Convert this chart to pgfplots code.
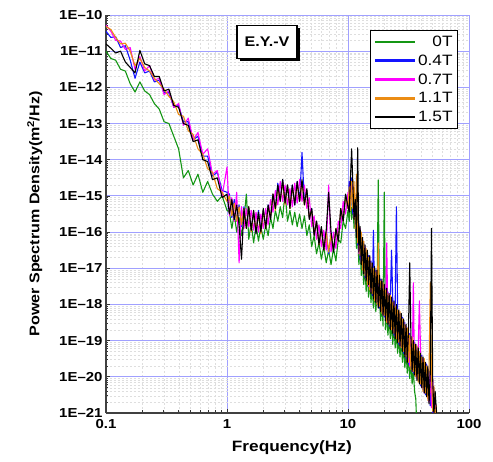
\documentclass[border=0pt]{standalone}
\usepackage{fontspec}
\setmainfont{Liberation Sans}[FakeStretch=1.15]
\usepackage{pgfplots}
\usepackage{pgfplotstable}
\pgfplotsset{compat=1.18}
\usetikzlibrary{shadows}
\definecolor{cG}{RGB}{20,150,20}
\definecolor{cB}{RGB}{20,20,255}
\definecolor{cM}{RGB}{255,0,255}
\definecolor{cO}{RGB}{235,140,20}
\definecolor{gridblue}{RGB}{160,160,255}
% columns: log10(f/Hz), then log10(PSD) for 0T, 0.4T, 0.7T, 1.1T, 1.5T
\pgfplotstableread{
u g b m o k
-1.00 -11.00 -10.45 -10.28 -10.32 -10.80
-0.96 -11.20 -10.62 -10.45 -10.40 -10.92
-0.92 -11.25 -10.60 -10.70 -10.62 -11.05
-0.88 -11.50 -10.90 -10.72 -10.80 -11.00
-0.84 -11.55 -10.85 -10.95 -10.78 -11.30
-0.80 -11.90 -11.25 -10.90 -11.00 -11.45
-0.76 -12.13 -11.75 -11.50 -11.40 -11.60
-0.72 -11.85 -11.30 -11.15 -11.20 -10.98
-0.68 -12.10 -11.60 -11.55 -11.45 -11.35
-0.64 -12.20 -11.55 -11.40 -11.55 -11.40
-0.60 -12.45 -11.85 -11.80 -11.75 -11.70
-0.56 -12.60 -11.80 -11.75 -11.90 -11.70
-0.52 -12.95 -12.15 -12.20 -12.05 -12.10
-0.48 -13.00 -12.15 -12.10 -12.25 -12.05
-0.44 -13.35 -12.55 -12.55 -12.40 -12.50
-0.40 -13.70 -12.50 -12.45 -12.75 -12.55
-0.36 -14.50 -12.95 -13.05 -12.80 -13.00
-0.32 -14.30 -12.95 -12.85 -13.20 -13.05
-0.28 -14.70 -13.45 -13.45 -13.30 -13.50
-0.24 -14.40 -13.35 -13.25 -13.70 -13.45
-0.20 -14.90 -13.90 -13.85 -13.85 -14.00
-0.16 -14.60 -13.90 -13.70 -14.25 -14.05
-0.12 -14.95 -14.45 -14.40 -14.35 -14.55
-0.08 -15.15 -14.35 -14.30 -14.80 -14.50
-0.04 -15.00 -14.85 -15.00 -14.90 -15.05
0.00 -15.40 -14.90 -14.20 -15.15 -14.95
0.02 -15.45 -14.95 -15.55 -15.00 -15.50
0.04 -15.90 -15.60 -15.05 -15.55 -15.10
0.06 -15.50 -15.10 -15.70 -15.20 -15.65
0.08 -16.00 -15.70 -14.90 -15.70 -15.25
0.10 -15.60 -15.25 -16.85 -15.30 -15.80
0.12 -16.10 -15.85 -15.30 -15.80 -16.75
0.14 -15.65 -15.30 -15.90 -15.35 -15.35
0.16 -14.95 -15.85 -15.35 -15.90 -15.90
0.18 -16.20 -15.35 -15.85 -15.30 -15.30
0.20 -15.75 -15.95 -15.40 -16.00 -15.95
0.22 -16.30 -15.45 -15.95 -15.45 -15.40
0.24 -15.80 -16.00 -15.45 -15.95 -16.05
0.26 -16.25 -15.40 -16.00 -15.50 -15.45
0.28 -15.85 -15.95 -15.50 -16.05 -16.00
0.30 -16.20 -15.40 -15.90 -15.40 -15.35
0.32 -15.80 -15.85 -15.35 -15.90 -15.90
0.34 -16.10 -15.25 -15.80 -15.30 -15.25
0.36 -15.60 -15.60 -15.10 -15.60 -15.65
0.38 -15.90 -14.95 -15.45 -14.95 -14.95
0.40 -15.40 -15.35 -14.85 -15.40 -15.35
0.42 -15.70 -14.65 -15.25 -14.75 -14.70
0.44 -15.30 -15.10 -14.60 -15.15 -15.15
0.46 -15.60 -14.55 -15.15 -14.60 -14.55
0.48 -14.90 -15.20 -14.70 -15.25 -15.20
0.50 -15.70 -14.70 -15.25 -14.70 -14.70
0.52 -15.40 -15.30 -14.80 -15.35 -15.35
0.54 -15.80 -14.70 -15.30 -14.75 -14.70
0.56 -15.45 -15.25 -14.65 -15.20 -15.25
0.58 -15.85 -14.60 -15.20 -14.65 -14.60
0.60 -15.50 -15.15 -14.55 -15.15 -15.15
0.62 -15.90 -13.80 -15.15 -14.60 -14.55
0.64 -15.55 -15.20 -14.70 -15.25 -15.25
0.66 -16.10 -14.85 -15.35 -14.85 -14.80
0.68 -15.80 -15.60 -15.05 -15.60 -15.65
0.70 -16.40 -15.35 -15.85 -15.40 -15.35
0.72 -16.10 -16.05 -15.55 -16.05 -16.10
0.74 -16.60 -15.70 -16.20 -15.70 -15.70
0.76 -16.30 -16.30 -15.80 -16.35 -16.35
0.78 -16.75 -15.90 -16.40 -15.90 -15.85
0.80 -16.40 -16.45 -15.95 -16.50 -16.50
0.82 -16.85 -16.00 -16.50 -16.00 -15.95
0.84 -16.50 -16.60 -14.70 -16.55 -14.90
0.86 -16.90 -16.05 -16.55 -16.05 -16.00
0.88 -16.45 -16.50 -16.00 -16.50 -16.55
0.90 -16.80 -15.95 -16.45 -15.90 -15.90
0.92 -16.20 -16.20 -15.70 -16.25 -16.25
0.94 -16.30 -15.40 -15.90 -15.35 -15.35
0.96 -15.70 -15.70 -15.15 -15.70 -15.70
0.98 -15.90 -15.00 -15.50 -15.00 -14.95
1.00 -15.40 -15.35 -14.90 -15.35 -15.30
1.01 -15.70 -14.60 -15.35 -14.75 -15.45
1.02 -15.05 -15.30 -14.60 -15.40 -14.55
1.03 -15.65 -14.50 -14.70 -14.60 -13.70
1.04 -15.20 -15.50 -14.70 -15.35 -14.65
1.05 -15.90 -14.85 -15.60 -14.60 -15.65
1.06 -15.60 -15.80 -15.05 -15.90 -15.10
1.07 -16.45 -15.30 -16.10 -14.40 -16.15
1.08 -16.05 -16.35 -15.50 -16.30 -13.67
1.09 -16.90 -15.75 -16.60 -15.80 -16.55
1.10 -16.45 -16.75 -15.90 -16.65 -15.85
1.11 -17.20 -16.05 -16.85 -16.00 -16.90
1.12 -16.75 -17.00 -16.20 -17.05 -16.15
1.13 -17.45 -16.30 -17.10 -16.25 -17.15
1.14 -16.95 -17.25 -16.40 -17.20 -16.35
1.15 -17.65 -16.50 -17.30 -16.45 -17.35
1.16 -17.10 -17.40 -16.55 -17.45 -16.50
1.17 -17.80 -16.65 -17.50 -16.70 -17.45
1.18 -17.30 -17.55 -16.70 -17.60 -16.65
1.19 -17.95 -16.80 -17.65 -16.85 -17.70
1.20 -17.45 -17.75 -16.90 -17.70 -16.85
1.21 -18.10 -15.95 -17.80 -17.00 -17.85
1.22 -17.60 -17.85 -17.00 -17.90 -16.95
1.23 -18.20 -17.05 -17.90 -17.10 -17.95
1.24 -17.70 -17.95 -17.10 -18.00 -17.05
1.25 -14.56 -17.20 -18.05 -16.30 -18.10
1.26 -17.85 -18.10 -17.25 -18.05 -17.20
1.27 -18.45 -17.30 -18.15 -17.35 -18.20
1.28 -18.00 -18.20 -17.35 -18.25 -17.30
1.29 -18.60 -17.45 -18.30 -17.40 -18.30
1.30 -14.90 -18.35 -17.50 -18.30 -17.45
1.31 -18.70 -17.55 -18.40 -17.60 -18.45
1.32 -18.25 -18.45 -16.30 -18.50 -17.55
1.33 -18.85 -17.65 -18.50 -17.70 -18.55
1.34 -18.35 -18.60 -17.70 -18.55 -17.70
1.35 -18.95 -17.80 -18.65 -17.75 -18.70
1.36 -18.50 -16.50 -17.80 -18.70 -17.80
1.37 -19.10 -17.90 -18.75 -17.95 -18.80
1.38 -18.60 -18.85 -17.95 -18.80 -17.90
1.39 -19.20 -18.00 -18.90 -18.05 -18.95
1.40 -18.75 -15.30 -18.05 -18.95 -18.00
1.41 -19.35 -18.10 -19.00 -18.15 -19.05
1.42 -18.90 -19.10 -18.20 -19.05 -18.15
1.43 -19.45 -18.25 -19.15 -18.20 -19.15
1.44 -19.00 -19.20 -18.30 -19.20 -18.25
1.45 -19.60 -18.35 -19.25 -18.40 -19.30
1.46 -19.15 -19.35 -18.45 -19.30 -18.40
1.47 -19.75 -18.50 -19.40 -18.55 -19.45
1.48 -19.30 -19.50 -18.60 -19.45 -18.55
1.49 -19.90 -18.70 -19.55 -18.65 -19.60
1.50 -19.45 -19.65 -18.75 -19.60 -18.70
1.51 -20.05 -18.80 -19.70 -18.85 -16.85
1.52 -19.60 -19.75 -18.90 -19.80 -18.85
1.53 -20.20 -18.95 -19.85 -18.90 -19.85
1.54 -19.80 -19.90 -17.40 -19.85 -19.00
1.55 -20.40 -19.05 -19.95 -19.10 -19.95
1.56 -20.60 -20.00 -19.10 -20.00 -19.10
1.57 -21.50 -19.20 -20.05 -19.15 -20.10
1.58 nan -20.10 -19.25 -20.15 -19.20
1.59 nan -19.30 -17.90 -19.30 -20.20
1.60 nan -20.25 -19.35 -20.20 -19.35
1.61 nan -19.40 -20.30 -19.45 -20.30
1.62 nan -20.35 -19.50 -20.40 -19.45
1.63 nan -19.55 -20.45 -19.50 -20.45
1.64 nan -20.50 -19.60 -20.45 -19.60
1.65 nan -19.65 -20.55 -19.70 -20.55
1.66 nan -20.60 -19.75 -20.65 -19.70
1.67 nan -19.85 -20.70 -19.80 -20.75
1.68 nan -20.80 -19.90 -17.40 -19.90
1.69 nan -20.00 -20.85 -20.00 -15.90
1.70 nan -21.00 -20.10 -20.95 -20.05
1.71 nan -20.30 -21.10 -20.25 -21.05
1.72 nan -21.30 -20.50 -21.25 -20.40
1.73 nan -22.00 -22.00 -20.80 -20.90
1.74 nan nan nan -22.00 -22.00
}\psd
\begin{document}
\begin{tikzpicture}
\begin{axis}[
  scale only axis,
  width=363pt, height=398pt,
  xmin=-1, xmax=2, ymin=-21, ymax=-10,
  axis x line*=bottom, axis y line*=left,
  axis line style={-, line width=1.1pt, black!75},
  xtick={-1,0,1,2},
  xticklabels={0.1,1,10,100},
  minor xtick={-0.699,-0.5229,-0.3979,-0.301,-0.2218,-0.1549,-0.0969,-0.0458,
    0.301,0.4771,0.6021,0.699,0.7782,0.8451,0.9031,0.9542,
    1.301,1.4771,1.6021,1.699,1.7782,1.8451,1.9031,1.9542},
  ytick={-21,-20,...,-10},
  yticklabels={1E–21,1E–20,1E–19,1E–18,1E–17,1E–16,1E–15,1E–14,1E–13,1E–12,1E–11,1E–10},
  minor ytick={-20.699,-20.5229,-20.3979,-20.301,-20.2218,-20.1549,-20.0969,-20.0458,
    -19.699,-19.5229,-19.3979,-19.301,-19.2218,-19.1549,-19.0969,-19.0458,
    -18.699,-18.5229,-18.3979,-18.301,-18.2218,-18.1549,-18.0969,-18.0458,
    -17.699,-17.5229,-17.3979,-17.301,-17.2218,-17.1549,-17.0969,-17.0458,
    -16.699,-16.5229,-16.3979,-16.301,-16.2218,-16.1549,-16.0969,-16.0458,
    -15.699,-15.5229,-15.3979,-15.301,-15.2218,-15.1549,-15.0969,-15.0458,
    -14.699,-14.5229,-14.3979,-14.301,-14.2218,-14.1549,-14.0969,-14.0458,
    -13.699,-13.5229,-13.3979,-13.301,-13.2218,-13.1549,-13.0969,-13.0458,
    -12.699,-12.5229,-12.3979,-12.301,-12.2218,-12.1549,-12.0969,-12.0458,
    -11.699,-11.5229,-11.3979,-11.301,-11.2218,-11.1549,-11.0969,-11.0458,
    -10.699,-10.5229,-10.3979,-10.301,-10.2218,-10.1549,-10.0969,-10.0458},
  tick align=inside,
  major tick length=4pt, minor tick length=2.5pt,
  tick style={black!80, line width=0.8pt},
  grid=both,
  major grid style={gridblue, line width=0.9pt},
  minor grid style={black!13, dash pattern=on 2pt off 2pt, line width=0.4pt},
  ticklabel style={font=\bfseries\fontsize{13}{15}\selectfont},
  xticklabel style={yshift=-3pt},
  xlabel={\bfseries Frequency(Hz)},
  xlabel style={font=\fontsize{15}{17}\selectfont, at={(axis description cs:0.512,-0.088)}, anchor=center},
  ylabel={\bfseries Power Spectrum Density(m$^{\mathbf{2}}$/Hz)},
  ylabel style={font=\fontsize{14}{16}\selectfont, at={(axis description cs:-0.196,0.5)}, anchor=center, rotate=0},
  unbounded coords=jump,
  legend cell align=right,
  legend style={at={(axis description cs:0.970,0.962)}, anchor=north east,
    draw=black, line width=1pt, fill=white,
    font=\fontsize{15}{17}\selectfont, row sep=3pt, inner sep=3pt},
  legend image code/.code={\draw[#1, line width=2.2pt] (0pt,0pt) -- (40pt,0pt);},
  every axis plot/.append style={line width=1.1pt, line join=round},
]
\addplot[color=cG] table[x=u,y=g] {\psd};
\addlegendentry{0T}
\addplot[color=cB] table[x=u,y=b] {\psd};
\addlegendentry{0.4T}
\addplot[color=cM] table[x=u,y=m] {\psd};
\addlegendentry{0.7T}
\addplot[color=cO] table[x=u,y=o] {\psd};
\addlegendentry{1.1T}
\addplot[color=black] table[x=u,y=k] {\psd};
\addlegendentry{1.5T}
\node[draw=black, line width=1.3pt, fill=white, minimum width=60pt, minimum height=33pt,
  font=\bfseries\fontsize{14}{16}\selectfont,
  drop shadow={shadow xshift=3pt, shadow yshift=-3pt, fill=black, opacity=1}]
  at (axis description cs:0.4435,0.933) {E.Y.-V};
\coordinate (O) at (axis description cs:0,0);
\end{axis}
\pgfresetboundingbox
\path[use as bounding box] (O) ++(-106pt,-49pt) rectangle ++(493pt,462pt);
\end{tikzpicture}
\end{document}
